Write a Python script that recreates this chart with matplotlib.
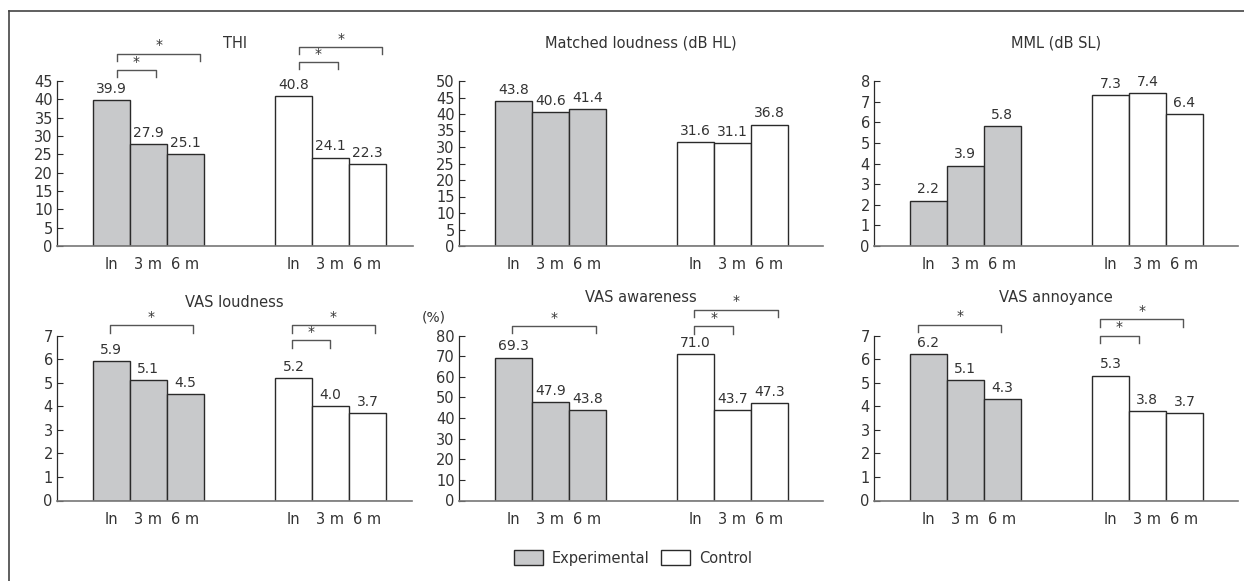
import numpy as np
import matplotlib as mpl
mpl.use('Agg')
import matplotlib.pyplot as plt
from matplotlib.lines import Line2D
from matplotlib.patches import Patch

plt.rcParams['font.family'] = ['DejaVu Sans']

timepoints = ['In', '3 m', '6 m']
titles = ['THI', 'Matched loudness (dB HL)', 'MML (dB SL)',
          'VAS loudness', 'VAS awareness', 'VAS annoyance']
experimental = [[39.9, 27.9, 25.1], [43.8, 40.6, 41.4], [2.2, 3.9, 5.8],
                [5.9, 5.1, 4.5], [69.3, 47.9, 43.8], [6.2, 5.1, 4.3]]
control = [[40.8, 24.1, 22.3], [31.6, 31.1, 36.8], [7.3, 7.4, 6.4],
           [5.2, 4.0, 3.7], [71.0, 43.7, 47.3], [5.3, 3.8, 3.7]]
y_max = [45, 50, 8, 7, 80, 7]
y_step = [5, 5, 1, 1, 10, 1]
# significant comparisons: (group 0=exp 1=ctrl, compared timepoint, bracket level)
signif = [
    [(0, 2, 52.4), (0, 1, 48.0), (1, 2, 54.3), (1, 1, 50.2)],
    [], [],
    [(0, 2, 7.44), (1, 2, 7.44), (1, 1, 6.79)],
    [(0, 2, 84.6), (1, 2, 92.5), (1, 1, 84.5)],
    [(0, 2, 7.46), (1, 2, 7.69), (1, 1, 7.0)],
]
bracket_shift = [0.15, 0, 0, -0.05, -0.03, -0.28]

W, H = 1244, 581
fig = plt.figure(figsize=(W / 100, H / 100), dpi=100)

grey = '#c8c9cb'
edge = '#2a2a2a'
txt = '#333333'
ctrl_offset = 4.92

# axes boxes in pixels: left, right, zero line, top
boxes = [(57, 413, 246, 81), (459, 823, 246, 81), (874, 1238, 246, 81),
         (57, 412, 500.5, 335.5), (459, 823, 500.5, 335.5), (874, 1238, 500.5, 335.5)]
title_y = [1.23, 1.23, 1.23, 1.20, 1.23, 1.23]

for i in range(6):
    l, r, z, t = boxes[i]
    ax = fig.add_axes([l / W, 1 - z / H, (r - l) / W, (z - t) / H])
    x_exp = np.arange(3)
    x_ctl = np.arange(3) + ctrl_offset
    ax.bar(x_exp, experimental[i], width=1.0, color=grey, edgecolor=edge, linewidth=1.0)
    ax.bar(x_ctl, control[i], width=1.0, color='white', edgecolor=edge, linewidth=1.0)
    for xs, vals in ((x_exp, experimental[i]), (x_ctl, control[i])):
        for xx, v in zip(xs, vals):
            ax.annotate(f'{v:.1f}', (xx, v), xytext=(0, 3), textcoords='offset points',
                        ha='center', va='bottom', fontsize=10, color=txt)
    ax.set_xlim(-1.47, -1.47 + (r - l) / 37.0)
    ax.set_ylim(0, y_max[i])
    ax.set_yticks(np.arange(0, y_max[i] + 0.01, y_step[i]))
    ax.set_xticks(np.concatenate([x_exp, x_ctl]))
    ax.set_xticklabels(timepoints * 2)
    ax.tick_params(axis='y', direction='in', length=4, width=0.8, color=edge,
                   pad=3, labelsize=10.5, labelcolor=txt)
    ax.tick_params(axis='x', length=0, pad=8, labelsize=10.5, labelcolor=txt)
    for s in ('top', 'right'):
        ax.spines[s].set_visible(False)
    ax.spines['left'].set_color(edge)
    ax.spines['left'].set_linewidth(0.9)
    ax.spines['bottom'].set_color('#777777')
    ax.spines['bottom'].set_linewidth(1.2)
    ax.text(0.5, title_y[i], titles[i], transform=ax.transAxes, ha='center',
            va='center', fontsize=10.5, color=txt)
    if i == 4:
        ax.text(-0.07, 1.11, '(%)', transform=ax.transAxes, ha='center',
                va='center', fontsize=10, color=txt)

    drop = 0.045 * y_max[i]
    for grp, tgt, lev in signif[i]:
        base = grp * ctrl_offset
        x1 = base + bracket_shift[i]
        x2 = base + tgt + (0.25 if tgt == 2 else 0.05) + bracket_shift[i]
        ax.plot([x1, x1, x2, x2], [lev - drop, lev, lev, lev - drop],
                color='#555555', lw=1.0, clip_on=False)
        ax.annotate('*', ((x1 + x2) / 2, lev), xytext=(0, 1), textcoords='offset points',
                    ha='center', va='bottom', fontsize=10, color=txt, annotation_clip=False)

# legend
handles = [Patch(facecolor=grey, edgecolor=edge, label='Experimental'),
           Patch(facecolor='white', edgecolor=edge, label='Control')]
fig.legend(handles=handles, loc='center', bbox_to_anchor=(633 / W, 1 - 558 / H),
           ncol=2, frameon=False, fontsize=10.5, handlelength=2.0, handleheight=1.2,
           columnspacing=0.8, handletextpad=0.6, labelcolor=txt)

# frame lines (top and left)
fig.add_artist(Line2D([9 / W, 1], [1 - 11 / H, 1 - 11 / H], color='#444444', lw=1.2))
fig.add_artist(Line2D([9 / W, 9 / W], [0, 1 - 11 / H], color='#444444', lw=1.2))

plt.savefig('out.png', dpi=100)
